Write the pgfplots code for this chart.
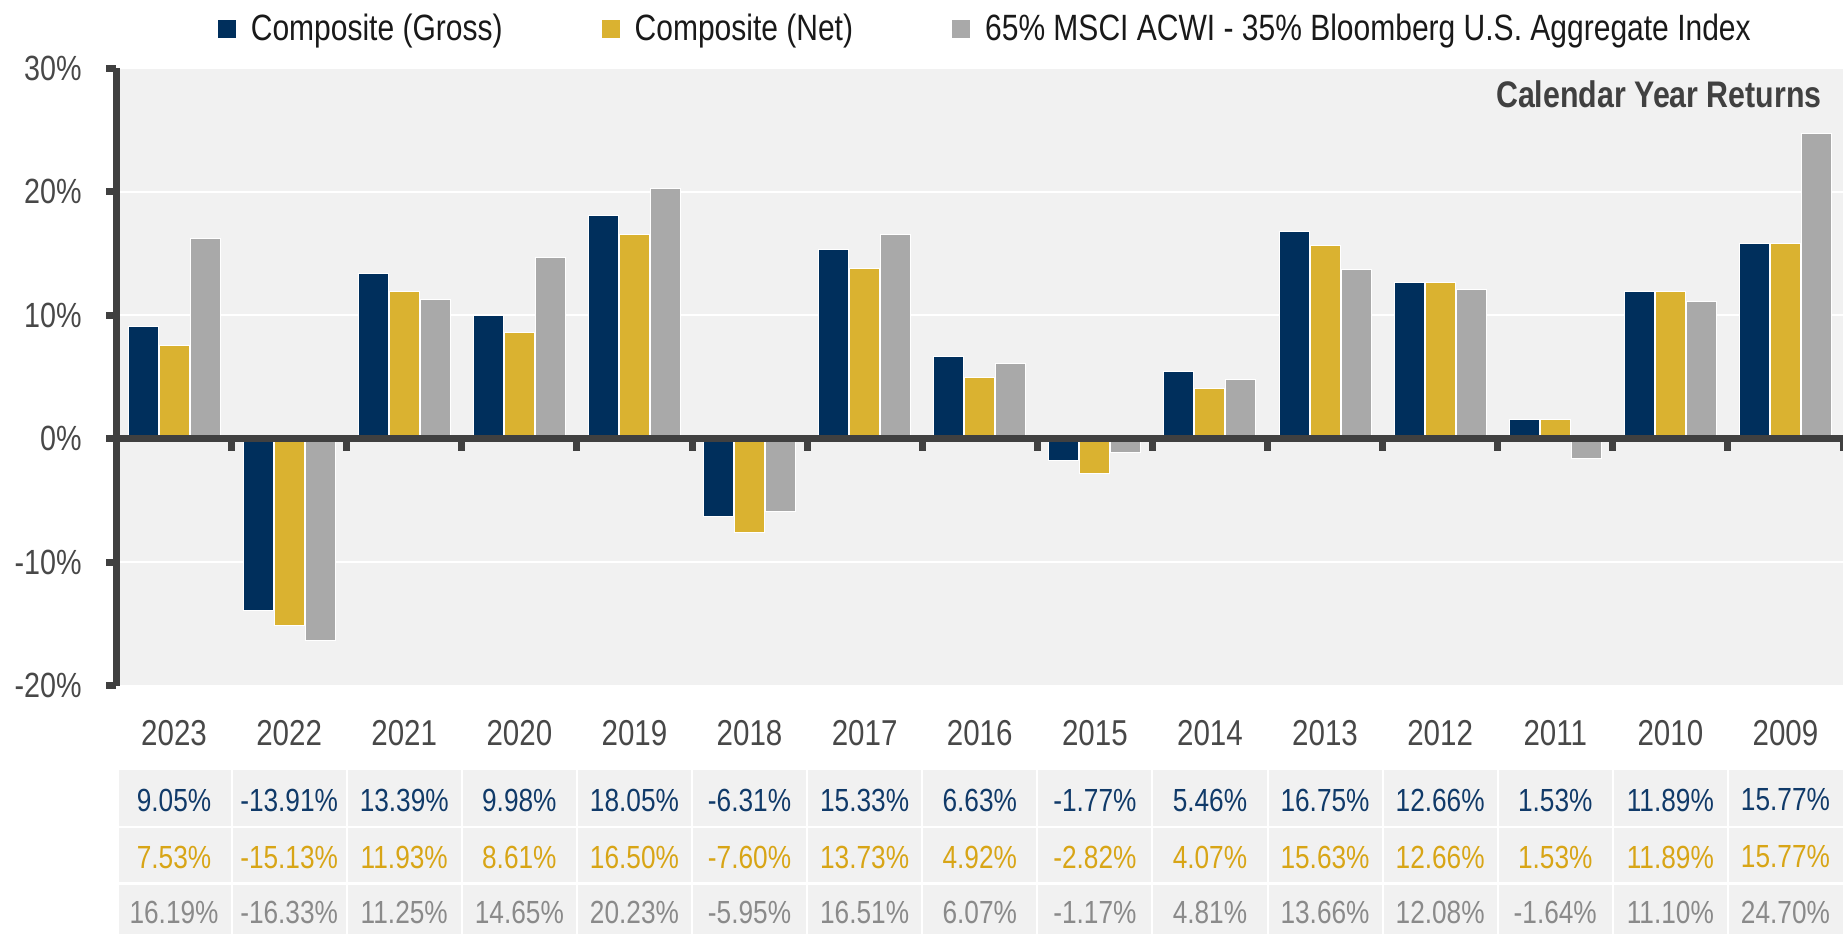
\documentclass[border=0pt]{standalone}
\usepackage{pgfplots}
\pgfplotsset{compat=1.18}
\usepackage{pgfplotstable}
\usepackage{fontspec}
\setmainfont{Liberation Sans}[FakeStretch=0.82]

\definecolor{navy}{RGB}{0,47,92}
\definecolor{gold}{RGB}{218,178,48}
\definecolor{idxgray}{RGB}{169,169,169}
\definecolor{bgc}{RGB}{241,241,241}
\definecolor{axisc}{RGB}{64,64,64}
\definecolor{tickc}{RGB}{72,72,72}
\definecolor{legc}{RGB}{25,25,25}
\definecolor{row1c}{RGB}{16,58,105}
\definecolor{row2c}{RGB}{216,165,22}
\definecolor{row3c}{RGB}{138,138,138}

\pgfplotstableread{
x year gross net idx
0 2023 9.05 7.53 16.19
1 2022 -13.91 -15.13 -16.33
2 2021 13.39 11.93 11.25
3 2020 9.98 8.61 14.65
4 2019 18.05 16.50 20.23
5 2018 -6.31 -7.60 -5.95
6 2017 15.33 13.73 16.51
7 2016 6.63 4.92 6.07
8 2015 -1.77 -2.82 -1.17
9 2014 5.46 4.07 4.81
10 2013 16.75 15.63 13.66
11 2012 12.66 12.66 12.08
12 2011 1.53 1.53 -1.64
13 2010 11.89 11.89 11.10
14 2009 15.77 15.77 24.70
}\datatable

\begin{document}
\begin{tikzpicture}[x=1pt,y=1pt]
\useasboundingbox (0,0) rectangle (921.5,467);
% table backgrounds
\fill[bgc] (59.5,54) rectangle (921.5,82);
\fill[bgc] (59.5,26) rectangle (921.5,53);
\fill[bgc] (59.5,0) rectangle (921.5,24.5);
\foreach \k in {1,...,14} {
  \draw[white, line width=1pt] ({58.25+\k*57.55},-1) -- ({58.25+\k*57.55},84);
}
\begin{axis}[
  at={(58.25pt,124.25pt)}, anchor=south west,
  scale only axis, width=863.25pt, height=308.75pt,
  xmin=-0.5, xmax=14.5, ymin=-20, ymax=30,
  ybar,
  axis background/.style={fill=bgc},
  axis y line*=left, axis x line*=bottom,
  x axis line style={draw=none},
  y axis line style={line width=3.5pt, draw=axisc},
  ytick={-20,-10,0,10,20,30},
  yticklabel={\pgfmathparse{int(round(\tick))}\pgfmathresult\%},
  ytick style={line width=3.5pt, draw=axisc},
  tick align=outside, major tick length=5.25pt,
  ymajorgrids, grid style={white, line width=1pt},
  xtick={0,...,14}, xticklabels from table={\datatable}{year},
  x tick style={draw=none},
  xticklabel style={font=\fontsize{18}{18}\selectfont, text=tickc, anchor=center, yshift=-18.75pt},
  yticklabel style={font=\fontsize{17.5}{17.5}\selectfont, text=tickc, anchor=east, inner sep=0pt, xshift=-12pt},
  legend style={at={(0.5038,1.0632)}, anchor=center, draw=none, fill=none,
    font=\fontsize{18.3}{18.3}\selectfont, text=legc,
    /tikz/every even column/.append style={column sep=47.5pt},
    /tikz/every odd column/.append style={column sep=5.5pt}},
  legend columns=3,
  legend image code/.code={\path[#1, draw=none] (0pt,-4.5pt) rectangle (9pt,4.5pt);},
]
\addplot[fill=navy, draw=white, line width=0.5pt, bar width=15pt, bar shift=-15.5pt] table[x=x,y=gross]{\datatable};
\addlegendentry{Composite (Gross)}
\addplot[fill=gold, draw=white, line width=0.5pt, bar width=15pt, bar shift=0pt] table[x=x,y=net]{\datatable};
\addlegendentry{Composite (Net)}
\addplot[fill=idxgray, draw=white, line width=0.5pt, bar width=15pt, bar shift=15.5pt] table[x=x,y=idx]{\datatable};
\addlegendentry{65\% MSCI ACWI - 35\% Bloomberg U.S. Aggregate Index}
\end{axis}
% zero line and category ticks
\draw[axisc, line width=3.5pt] (58.25,247.75) -- (921.5,247.75);
\foreach \k in {1,...,15} {
  \draw[axisc, line width=3.5pt] ({58.25+\k*57.55},247.75) -- ++(0,-6);
}
% title
\node[anchor=east, inner sep=0pt, font=\bfseries\fontsize{18.5}{18.5}\selectfont, text=axisc] at (911,420) {Calendar Year Returns};
% table text
\foreach \i in {0,...,14} {
  \pgfplotstablegetelem{\i}{gross}\of\datatable
  \node[font=\fontsize{16}{16}\selectfont, text=row1c, inner sep=0pt] at ({58.25+(\i+0.5)*57.55},67) {\pgfplotsretval\%};
  \pgfplotstablegetelem{\i}{net}\of\datatable
  \node[font=\fontsize{16}{16}\selectfont, text=row2c, inner sep=0pt] at ({58.25+(\i+0.5)*57.55},38.5) {\pgfplotsretval\%};
  \pgfplotstablegetelem{\i}{idx}\of\datatable
  \node[font=\fontsize{16}{16}\selectfont, text=row3c, inner sep=0pt] at ({58.25+(\i+0.5)*57.55},11) {\pgfplotsretval\%};
}
\end{tikzpicture}
\end{document}
